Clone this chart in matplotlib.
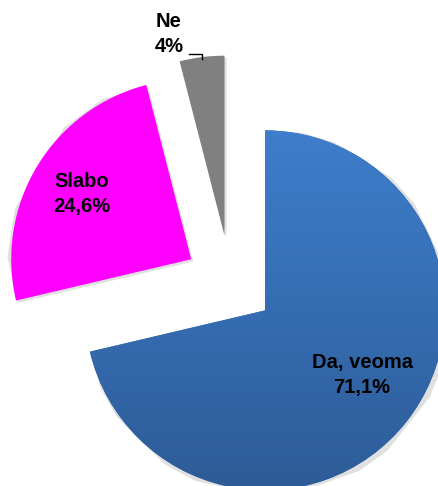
import numpy as np
import matplotlib
matplotlib.use("Agg")
import matplotlib.pyplot as plt
from matplotlib.colors import LinearSegmentedColormap

labels = ["Da, veoma", "Slabo", "Ne"]
values = [71.1, 24.6, 4.0]
pct_labels = ["71,1%", "24,6%", "4%"]
colors = ["#3A74BE", "#FF00FF", "#808080"]

W, H = 438, 486
CX, CY, R = 230.5, 283.0, 180.0


def px(x, y):
    # pixel position in the image -> data coords (radius 1)
    return (x - CX) / R, (CY - y) / R


fig = plt.figure(figsize=(W / 100, H / 100), dpi=100)
ax = fig.add_axes([0, 0, 1, 1])

wedges, _ = ax.pie(values, colors=colors, startangle=90, counterclock=False,
                   explode=[0.245, 0.255, 0.265], radius=1.0,
                   wedgeprops=dict(linewidth=0))

ax.set_xlim(-CX / R, (W - CX) / R)
ax.set_ylim(-(H - CY) / R, CY / R)
ax.set_aspect("equal")
ax.axis("off")

# soft shadow behind the slices
for w in wedges:
    sh = plt.Polygon(w.get_path().vertices + np.array([0.012, -0.012]),
                     closed=True, facecolor="black", alpha=0.12,
                     edgecolor="none", zorder=w.get_zorder() - 0.5)
    ax.add_patch(sh)

# vertical gradient on the big blue slice
blue = wedges[0]
cmap = LinearSegmentedColormap.from_list("b", ["#2D5B97", "#3E7ECC"])
grad = np.linspace(0, 1, 256).reshape(-1, 1)
x0, x1 = ax.get_xlim()
top = px(0, 128)[1]
bot = px(0, 492)[1]
im = ax.imshow(grad, cmap=cmap, origin="lower", aspect="auto",
               extent=[x0, x1, bot, top], zorder=blue.get_zorder() + 0.1)
im.set_clip_path(blue)
ax.set_xlim(-CX / R, (W - CX) / R)
ax.set_ylim(-(H - CY) / R, CY / R)

font = dict(fontsize=14.5, fontweight="bold", family=["Liberation Sans", "DejaVu Sans"],
            ha="center", va="center", linespacing=1.4, zorder=10)
ax.text(*px(362, 375), labels[0] + "\n" + pct_labels[0], **font)
ax.text(*px(82, 194), labels[1] + "\n" + pct_labels[1], **font)
ax.text(*px(169, 34), labels[2] + "\n" + pct_labels[2], **font)

# leader line for the small slice
lx = [px(189, 54)[0], px(202, 54)[0], px(202, 59)[0]]
ly = [px(189, 54)[1], px(202, 54)[1], px(202, 59)[1]]
ax.plot(lx, ly, color="black", lw=1, zorder=10)

fig.savefig("out.png", dpi=100)
